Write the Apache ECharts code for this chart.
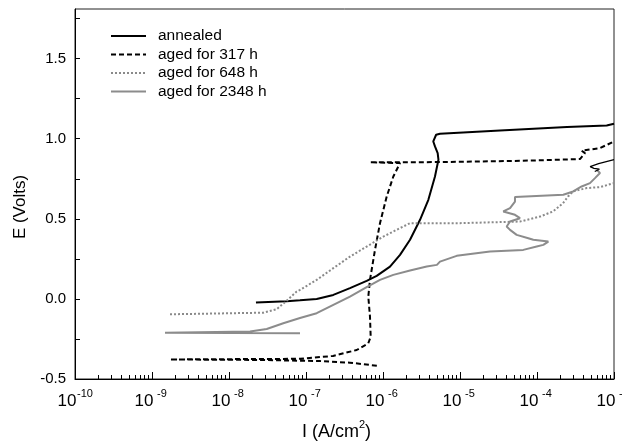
<!DOCTYPE html>
<html>
<head>
<meta charset="utf-8">
<script src="https://cdn.jsdelivr.net/npm/echarts@6/dist/echarts.min.js"></script>
<style>html,body{margin:0;padding:0;background:#fff}#c{width:622px;height:442px}</style>
</head>
<body>
<div id="c"></div>
<script>
// x values are log10(I / A cm^-2), y values are E in Volts
const seriesNames = ['annealed', 'aged for 317 h', 'aged for 648 h', 'aged for 2348 h'];

const annealedLogI = [-7.65,-7.25,-7.078,-6.861,-6.645,-6.429,-6.212,-6.082,-5.909,-5.779,-5.649,-5.519,-5.411,-5.325,-5.28,-5.29,-5.325,-5.347,-5.31,-5.26,-4.48,-3.61,-3.095,-3.0];
const annealedE    = [-0.023,-0.014,-0.009,0.0,0.025,0.067,0.113,0.144,0.202,0.275,0.369,0.494,0.619,0.764,0.869,0.91,0.952,0.983,1.025,1.031,1.052,1.073,1.083,1.094];

const annealedReturnLogI = [-3.0,-3.2,-3.31,-3.26,-3.19,-3.25];
const annealedReturnE    = [0.87,0.845,0.826,0.815,0.81,0.795];

const aged317LogI = [-6.08,-6.43,-6.82,-7.6,-8.766,-7.6,-7.078,-6.649,-6.342,-6.191,-6.16,-6.169,-6.191,-6.169,-6.104,-6.039,-5.952,-5.866,-5.779,-6.169,-5.6,-5.0,-4.22,-3.442,-3.377,-3.42,-3.18,-3.0];
const aged317E    = [-0.417,-0.398,-0.388,-0.381,-0.378,-0.375,-0.374,-0.356,-0.319,-0.277,-0.236,-0.111,0.014,0.119,0.306,0.473,0.639,0.764,0.848,0.853,0.853,0.856,0.862,0.873,0.91,0.925,0.942,0.983];

const aged648LogI = [-8.766,-7.555,-7.38,-7.251,-7.121,-7.078,-6.861,-6.645,-6.429,-6.212,-5.996,-5.779,-5.649,-5.0,-4.221,-3.961,-3.792,-3.662,-3.597,-3.532,-3.355,-3.182,-3.0];
const aged648E    = [-0.096,-0.086,-0.064,-0.011,0.046,0.056,0.119,0.192,0.264,0.327,0.389,0.442,0.473,0.473,0.483,0.514,0.546,0.598,0.639,0.671,0.692,0.698,0.723];

const aged2348LogI = [-7.078,-8.831,-7.727,-7.51,-7.295,-7.078,-6.861,-6.645,-6.429,-6.212,-6.039,-5.866,-5.649,-5.432,-5.30,-5.26,-5.043,-4.61,-4.178,-4.004,-3.918,-3.853,-4.048,-4.113,-4.264,-4.35,-4.394,-4.35,-4.221,-4.286,-4.438,-4.35,-4.286,-4.286,-3.659,-3.53,-3.42,-3.312,-3.247,-3.182,-3.225];
const aged2348E    = [-0.214,-0.211,-0.204,-0.1875,-0.152,-0.119,-0.089,-0.0375,0.014,0.073,0.119,0.15,0.177,0.202,0.2125,0.233,0.269,0.296,0.306,0.327,0.3375,0.358,0.369,0.379,0.4,0.431,0.452,0.483,0.504,0.525,0.546,0.567,0.608,0.636,0.65,0.671,0.702,0.723,0.754,0.786,0.806];

const xDecades = [-10,-9,-8,-7,-6,-5,-4,-3];
const yMajorTicks = [-0.5,0.0,0.5,1.0,1.5];
const yMinorTicks = [-0.5,-0.25,0,0.25,0.5,0.75,1.0,1.25,1.5,1.75];

function zip(xs, ys){ return xs.map((x,i)=>[x, ys[i]]); }
const xMinor = [];
for (let n = -10; n < -3; n++) for (let k = 2; k <= 9; k++) xMinor.push(n + Math.log10(k));

const chart = echarts.init(document.getElementById('c'));
const font = 'Liberation Sans, Arial, Helvetica, sans-serif';
chart.setOption({
  animation: false,
  textStyle: {fontFamily: font, color: '#000'},
  grid: {left: 75, right: 8, top: 9, bottom: 63, outerBoundsMode: 'none', containLabel: false,
         show: true, borderColor: '#222', borderWidth: 1, backgroundColor: 'transparent'},
  legend: {
    data: seriesNames, orient: 'vertical', left: 110, top: 28, padding: 0,
    itemWidth: 35, itemHeight: 14, itemGap: 2.5,
    itemStyle: {opacity: 0},
    textStyle: {fontSize: 15.5, lineHeight: 14, color: '#000', fontFamily: font, padding: [0,0,0,7]}
  },
  xAxis: [{
    type: 'value', min: -10, max: -3, interval: 1, position: 'bottom',
    splitLine: {show: false},
    axisLine: {onZero: false, lineStyle: {color: '#000', width: 1}},
    axisTick: {inside: true, length: 7, lineStyle: {color: '#000'}},
    axisLabel: {
      margin: 9,
      formatter: v => '{b|10}{s|' + Math.round(v) + '}',
      rich: {
        b: {fontSize: 17, fontFamily: font, color: '#000', width: 20, align: 'right', lineHeight: 17, padding: [10,0,0,0]},
        s: {fontSize: 11, fontFamily: font, color: '#000', width: 16, align: 'left', lineHeight: 11, verticalAlign: 'top'}
      }
    },
    name: '{a|I (A/cm}{s|2}{a|)}', nameLocation: 'middle', nameGap: 40,
    nameTextStyle: {
      padding: [0, 16, 0, 0],
      rich: {
        a: {fontSize: 18, fontFamily: font, color: '#000', lineHeight: 22, padding: [4,0,0,0]},
        s: {fontSize: 11, fontFamily: font, color: '#000', lineHeight: 11, verticalAlign: 'top'}
      }
    }
  }, {
    type: 'value', min: -10, max: -3, position: 'bottom',
    splitLine: {show: false}, axisLine: {show: false, onZero: false}, axisLabel: {show: false},
    axisTick: {inside: true, length: 4, customValues: xMinor, lineStyle: {color: '#000'}}
  }],
  yAxis: {
    type: 'value', min: -0.5, max: 1.81, interval: 0.25,
    splitLine: {show: false},
    axisLine: {show: true, onZero: false, lineStyle: {color: '#000', width: 1}},
    axisTick: {inside: true, length: 5, customValues: yMinorTicks, lineStyle: {color: '#000'}},
    axisLabel: {margin: 9, fontSize: 15, color: '#000', fontFamily: font, customValues: yMajorTicks, formatter: v => v.toFixed(1)},
    name: 'E (Volts)', nameLocation: 'middle', nameGap: 46, nameRotate: 90,
    nameTextStyle: {fontSize: 17, color: '#000', fontFamily: font, padding: [0, 26, 0, 0]}
  },
  series: [
    {name: seriesNames[0], type: 'line', symbol: 'none', data: zip(annealedLogI, annealedE),
     lineStyle: {color: '#000', width: 2}, itemStyle: {color: '#000'}},
    {name: seriesNames[1], type: 'line', symbol: 'none', data: zip(aged317LogI, aged317E),
     lineStyle: {color: '#000', width: 2, type: [5,3]}, itemStyle: {color: '#000'}},
    {name: seriesNames[2], type: 'line', symbol: 'none', data: zip(aged648LogI, aged648E),
     lineStyle: {color: '#8a8a8a', width: 2, type: [2,2]}, itemStyle: {color: '#8a8a8a'}},
    {name: seriesNames[3], type: 'line', symbol: 'none', data: zip(aged2348LogI, aged2348E),
     lineStyle: {color: '#8c8c8c', width: 2}, itemStyle: {color: '#8c8c8c'}},
    {name: 'annealed (return)', type: 'line', symbol: 'none', data: zip(annealedReturnLogI, annealedReturnE),
     lineStyle: {color: '#000', width: 1.2}, itemStyle: {color: '#000'}}
  ]
});
</script>
</body>
</html>
